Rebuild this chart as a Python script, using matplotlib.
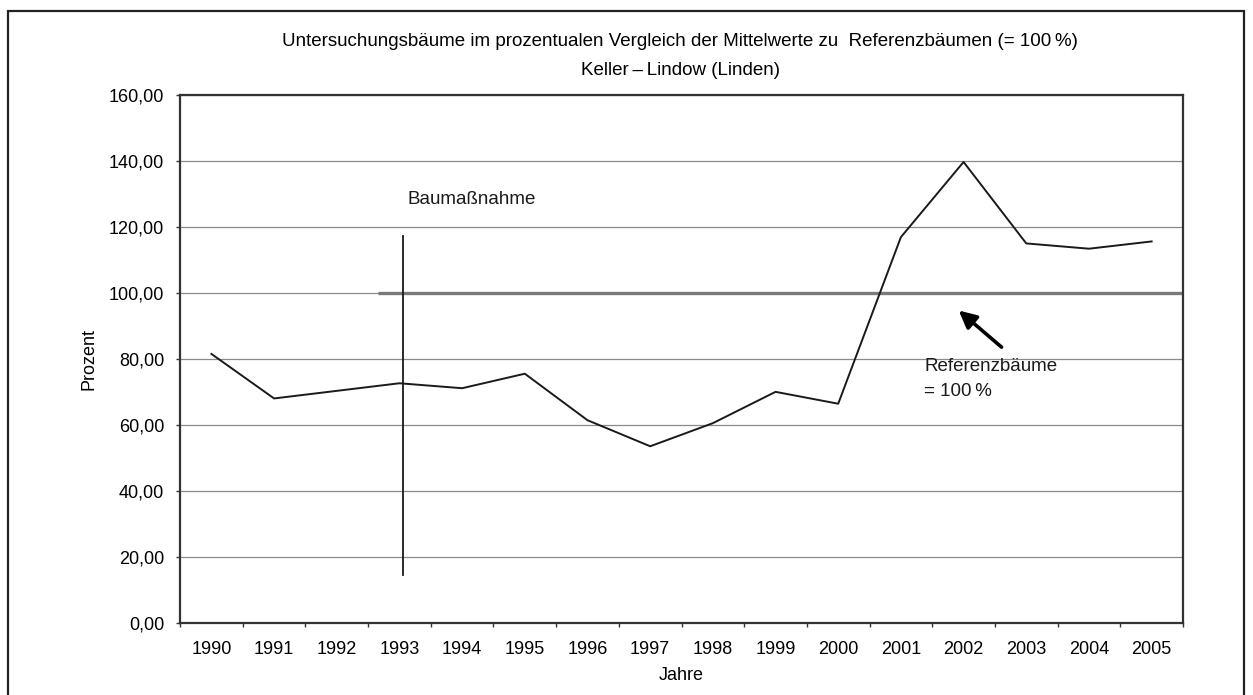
import matplotlib
matplotlib.use('Agg')
import matplotlib.pyplot as plt
from matplotlib.patches import Rectangle

plt.rcParams['font.family'] = ['Liberation Sans', 'DejaVu Sans']

# Daten
jahre = ['1990', '1991', '1992', '1993', '1994', '1995', '1996', '1997',
         '1998', '1999', '2000', '2001', '2002', '2003', '2004', '2005']
prozent = [81.5, 68.0, 70.3, 72.6, 71.1, 75.5, 61.4, 53.5,
           60.5, 70.0, 66.4, 116.9, 139.7, 115.0, 113.4, 115.6]
y_ticks = [0, 20, 40, 60, 80, 100, 120, 140, 160]
y_labels = ['0,00', '20,00', '40,00', '60,00', '80,00', '100,00',
            '120,00', '140,00', '160,00']
referenz = 100
bau_x = 3.06           # Baumaßnahme kurz nach 1993
bau_von, bau_bis = 14.5, 117.3

fig = plt.figure(figsize=(12.53, 6.95), dpi=100)
ax = fig.add_axes([0.1437, 0.104, 0.9441 - 0.1437, 0.8633 - 0.104])

x = list(range(len(jahre)))

# Gitterlinien
for v in y_ticks:
    ax.axhline(v, color='#8a8a8a', lw=0.9, zorder=1)
# Referenzlinie (100 %)
ax.plot([2.66, 15.5], [referenz, referenz], color='#7a7a7a', lw=2.4, zorder=2,
        solid_capstyle='butt')

ax.plot(x, prozent, color='#1a1a1a', lw=1.4, zorder=4)

# Baumaßnahme
ax.plot([bau_x, bau_x], [bau_von, bau_bis], color='#1a1a1a', lw=1.3, zorder=3)
ax.text(bau_x + 0.07, 128.3, 'Baumaßnahme', fontsize=13.5, va='center', ha='left',
        color='#1a1a1a')

# Pfeil + Beschriftung
ax.annotate('', xy=(11.89, 95.2), xytext=(12.64, 83.0),
            arrowprops=dict(arrowstyle='-|>', lw=2.6, color='black', mutation_scale=26),
            zorder=5)
ax.text(11.37, 77.8, 'Referenzbäume', fontsize=13.5, va='center', ha='left', color='#1a1a1a')
ax.text(11.37, 70.0, '= 100\u2009%', fontsize=13.5, va='center', ha='left', color='#1a1a1a')

ax.set_xlim(-0.5, 15.5)
ax.set_ylim(0, 160)
ax.set_yticks(y_ticks)
ax.set_yticklabels(y_labels, fontsize=13)
ax.set_xticks(x)
ax.set_xticklabels(jahre, fontsize=13)
ax.set_xticks([i - 0.5 for i in range(len(jahre) + 1)], minor=True)
ax.tick_params(axis='x', which='major', length=0, pad=13.5)
ax.tick_params(axis='x', which='minor', length=3, width=1, color='#333333')
ax.tick_params(axis='y', length=3, width=1, color='#333333', pad=8.5)

for s in ax.spines.values():
    s.set_color('#333333')
    s.set_linewidth(1.6)

ax.set_xlabel('Jahre', fontsize=13, labelpad=6)
ax.set_ylabel('Prozent', fontsize=13, labelpad=8)

fig.text(0.5427, 0.940, 'Untersuchungsbäume im prozentualen Vergleich der Mittelwerte zu  '
         'Referenzbäumen (= 100\u2009%)', ha='center', va='center', fontsize=13.5)
fig.text(0.5427, 0.899, 'Keller\u2009\u2013\u2009Lindow (Linden)', ha='center', va='center',
         fontsize=13.5)

# Rahmen um die Grafik
fig.patches.append(Rectangle((8 / 1253, -0.02), (1244 - 8) / 1253, 1 - 11 / 695 + 0.02,
                             transform=fig.transFigure, fill=False, edgecolor='#222222',
                             lw=1.6))

fig.savefig('out.png', dpi=100)
